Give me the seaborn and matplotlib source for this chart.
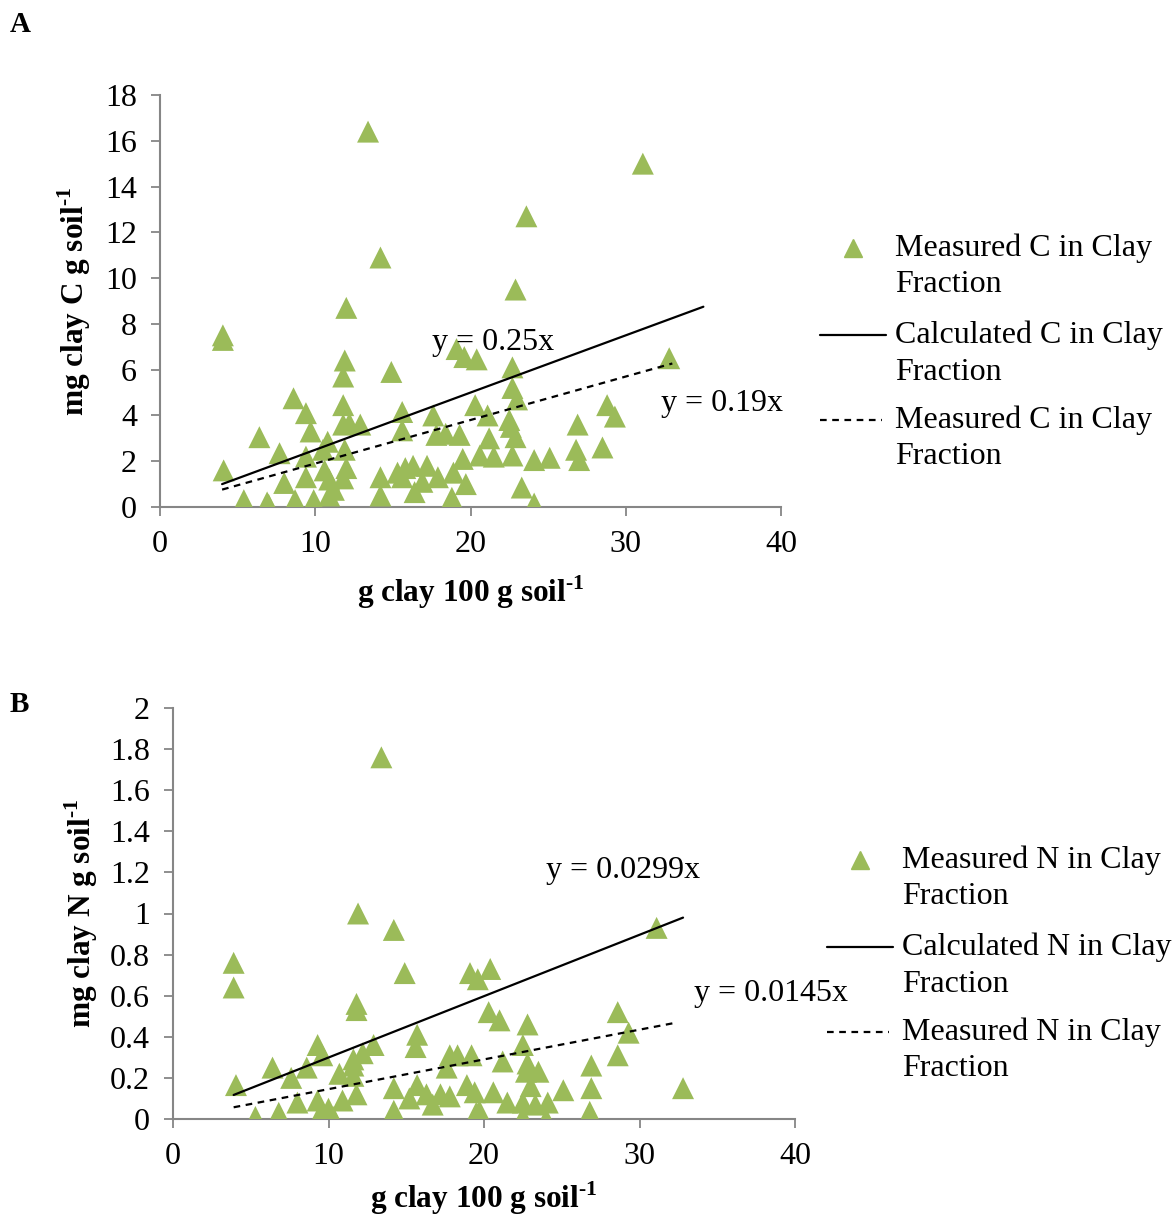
import numpy as np
import pandas as pd
import matplotlib
matplotlib.use("Agg")
import matplotlib.pyplot as plt
import seaborn as sns
from matplotlib.lines import Line2D

# painel A - carbono na fração argila
clay_c = [13.4, 31.1, 23.6, 14.2, 22.9, 12.0, 4.05, 4.05, 19.1, 19.6, 20.4, 32.8, 11.9, 22.7,
          14.9, 11.8, 22.7, 8.6, 23.0, 20.3, 11.8, 28.8, 9.4, 15.6, 17.6, 21.1, 29.3, 22.5,
          11.8, 12.2, 12.9, 26.9, 22.6, 9.7, 15.6, 17.8, 18.4, 19.3, 6.4, 22.9, 21.2, 10.8,
          28.5, 26.8, 10.5, 11.9, 7.7, 9.4, 20.6, 21.5, 22.7, 25.1, 19.5, 24.1, 27.0, 4.1,
          10.6, 12.0, 15.8, 16.3, 17.2, 15.3, 18.9, 9.4, 11.8, 14.2, 15.6, 17.9, 10.9, 16.9,
          8.0, 19.7, 23.3, 11.2, 16.4, 10.9, 14.2, 18.8, 5.4, 8.7, 9.9, 6.9, 7.0, 9.9, 24.1]
meas_c = [16.4, 15.0, 12.7, 10.9, 9.5, 8.7, 7.5, 7.3, 6.9, 6.55, 6.45, 6.5, 6.4, 6.1,
          5.9, 5.7, 5.2, 4.75, 4.7, 4.45, 4.45, 4.45, 4.1, 4.15, 4.0, 4.0, 3.95, 3.8,
          3.6, 3.65, 3.6, 3.6, 3.5, 3.3, 3.35, 3.15, 3.2, 3.15, 3.05, 3.05, 3.0, 2.85,
          2.6, 2.5, 2.5, 2.5, 2.35, 2.2, 2.25, 2.2, 2.25, 2.15, 2.1, 2.05, 2.05, 1.6,
          1.6, 1.7, 1.7, 1.8, 1.8, 1.5, 1.5, 1.3, 1.25, 1.3, 1.3, 1.3, 1.2, 1.1,
          1.05, 1.0, 0.85, 0.75, 0.65, 0.5, 0.5, 0.4, 0.3, 0.3, 0.3, 0.2, 0.1, 0.05, 0.15]

# linhas de tendência (extremos)
calc_c_x = [4.0, 35.0]
calc_c_y = [1.0, 8.75]
trend_c_x = [4.0, 33.0]
trend_c_y = [0.76, 6.27]

# painel B - nitrogênio na fração argila
clay_n = [13.4, 11.9, 14.2, 31.1, 3.9, 3.9, 14.9, 19.1, 19.6, 20.4, 11.8, 11.8, 20.3, 21.0,
          28.6, 22.8, 29.3, 15.7, 9.3, 15.6, 12.9, 22.5, 12.2, 9.6, 17.8, 18.3, 19.2, 28.6,
          11.6, 21.2, 22.8, 26.9, 11.6, 6.4, 8.6, 17.6, 22.7, 23.5, 10.7, 11.6, 7.6, 4.05,
          15.7, 18.9, 23.0, 26.9, 32.8, 14.2, 25.1, 19.4, 20.6, 11.8, 16.3, 17.2, 17.8, 15.2,
          10.9, 9.3, 8.0, 21.5, 22.5, 24.1, 23.3, 16.7, 10.0, 9.5, 14.2, 19.7, 26.8, 6.8,
          5.3, 10.3, 22.5, 24.0, 19.5]
meas_n = [1.76, 1.0, 0.92, 0.93, 0.76, 0.64, 0.71, 0.71, 0.68, 0.73, 0.56, 0.53, 0.52, 0.48,
          0.52, 0.46, 0.42, 0.41, 0.36, 0.35, 0.36, 0.36, 0.32, 0.31, 0.31, 0.31, 0.31, 0.31,
          0.29, 0.28, 0.27, 0.26, 0.26, 0.25, 0.25, 0.25, 0.23, 0.23, 0.22, 0.21, 0.2, 0.165,
          0.165, 0.165, 0.16, 0.15, 0.15, 0.15, 0.14, 0.13, 0.13, 0.12, 0.12, 0.12, 0.11, 0.1,
          0.09, 0.09, 0.08, 0.08, 0.08, 0.08, 0.07, 0.07, 0.05, 0.03, 0.04, 0.04, 0.035, 0.03,
          0.01, 0.01, 0.01, 0.0, 0.03]

calc_n_x = [3.9, 32.8]
calc_n_y = [0.117, 0.98]
trend_n_x = [3.9, 32.3]
trend_n_y = [0.057, 0.468]

verde = "#9BBB59"
cinza = "#868686"
W, H = 1173, 1220
FS = 23

sns.set_style("ticks")
plt.rcParams['font.family'] = ['Liberation Serif', 'DejaVu Serif']
plt.rcParams['mathtext.fontset'] = 'custom'
plt.rcParams['mathtext.rm'] = 'Liberation Serif:bold'
plt.rcParams['mathtext.bf'] = 'Liberation Serif:bold'
for k in ['text.color', 'axes.labelcolor', 'xtick.labelcolor', 'ytick.labelcolor']:
    plt.rcParams[k] = 'black'

fig = plt.figure(figsize=(W / 100, H / 100), dpi=100)
axA = fig.add_axes([160 / W, 1 - 507 / H, 621 / W, 412 / H])
axB = fig.add_axes([173 / W, 1 - 1119 / H, 622 / W, 411 / H])


def legenda(nome, x0, y0):
    # legenda montada à mão (marcador alinhado com a primeira linha do texto)
    tr = fig.transFigure
    fx = lambda px: px / W
    fy = lambda py: 1 - py / H
    fig.add_artist(Line2D([fx(x0 + 33)], [fy(y0)], marker="^", color=verde,
                          markersize=13, linestyle="none", transform=tr))
    fig.add_artist(Line2D([fx(x0), fx(x0 + 66)], [fy(y0 + 87)] * 2, color="black",
                          linewidth=1.6, transform=tr))
    fig.add_artist(Line2D([fx(x0), fx(x0 + 62)], [fy(y0 + 172)] * 2, color="black",
                          linewidth=1.6, linestyle=(0, (3, 2.5)), transform=tr))
    textos = [f"Measured {nome} in Clay", f"Calculated {nome} in Clay", f"Measured {nome} in Clay"]
    for t, dy in zip(textos, [0, 87, 172]):
        fig.text(fx(x0 + 75), fy(y0 + dy), t, fontsize=FS, va="center")
        fig.text(fx(x0 + 75), fy(y0 + dy + 37), "Fraction", fontsize=FS, va="center")


def painel(ax, x, y, lx1, ly1, lx2, ly2, ylim, yticks, ylabel, eq1, eq2, pos1, pos2,
           ylab_x, xlab_y):
    df = pd.DataFrame({"x": x, "y": y})
    sns.scatterplot(data=df, x="x", y="y", ax=ax, marker="^", s=250, color=verde,
                    edgecolor="none", zorder=3)
    sns.lineplot(x=lx1, y=ly1, ax=ax, color="black", linewidth=1.6, zorder=4)
    sns.lineplot(x=lx2, y=ly2, ax=ax, color="black", linewidth=1.6,
                 linestyle=(0, (3, 2.5)), zorder=4)
    ax.set_xlim(0, 40)
    ax.set_ylim(*ylim)
    ax.set_xticks([0, 10, 20, 30, 40])
    ax.set_yticks(yticks)
    ax.set_yticklabels([f"{t:g}" for t in yticks])
    sns.despine(ax=ax)
    for s in ["left", "bottom"]:
        ax.spines[s].set_color(cinza)
        ax.spines[s].set_linewidth(1.5)
    ax.tick_params(direction="out", length=6.5, width=1.3, color=cinza,
                   labelsize=FS, pad=10)
    ax.set_xlabel(r"g clay 100 g soil$^{\text{-}1}$", fontsize=22.5, fontweight="bold")
    ax.set_ylabel(ylabel, fontsize=22.5, fontweight="bold")
    ax.xaxis.set_label_coords(0.5, xlab_y)
    ax.yaxis.set_label_coords(ylab_x, 0.5)
    ax.text(pos1[0], pos1[1], eq1, fontsize=FS, va="center", zorder=5)
    ax.text(pos2[0], pos2[1], eq2, fontsize=FS, va="center", zorder=5)


painel(axA, clay_c, meas_c, calc_c_x, calc_c_y, trend_c_x, trend_c_y, (0, 18),
       list(range(0, 19, 2)), r"mg clay C g soil$^{\text{-}1}$",
       "y = 0.25x", "y = 0.19x", (17.5, 7.2), (32.3, 4.5), -0.108, -0.16)
painel(axB, clay_n, meas_n, calc_n_x, calc_n_y, trend_n_x, trend_n_y, (0, 2),
       [0, 0.2, 0.4, 0.6, 0.8, 1.0, 1.2, 1.4, 1.6, 1.8, 2.0], r"mg clay N g soil$^{\text{-}1}$",
       "y = 0.0299x", "y = 0.0145x", (24.0, 1.21), (33.5, 0.61), -0.117, -0.148)

legenda("C", 820, 248)
legenda("N", 827, 860)

fig.text(10 / W, 1 - 25 / H, "A", fontsize=21, fontweight="bold", va="center")
fig.text(10 / W, 1 - 705 / H, "B", fontsize=21, fontweight="bold", va="center")

fig.savefig("out.png", dpi=100)
